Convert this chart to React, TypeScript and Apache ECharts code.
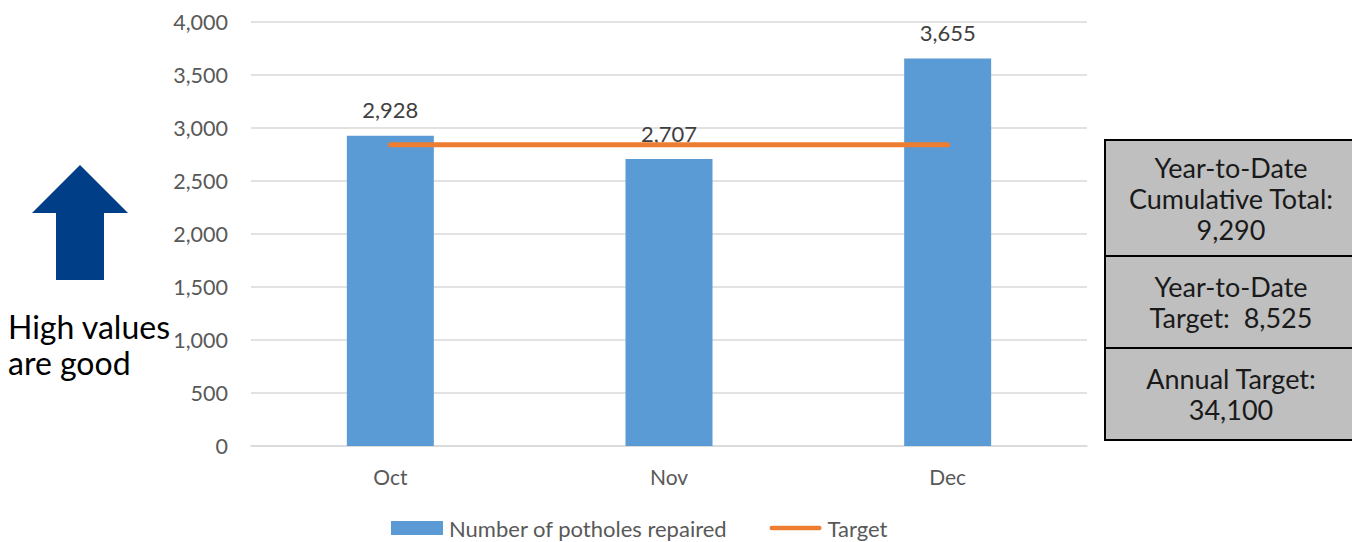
import React, { useEffect, useRef } from "react";
import * as echarts from "echarts";

const categories = ["Oct", "Nov", "Dec"];
const repaired = [2928, 2707, 3655];
const target = [2842, 2842, 2842];
const yTicks = { min: 0, max: 4000, interval: 500 };
const boxRows = [
  "Year-to-Date\nCumulative Total:\n9,290",
  "Year-to-Date\nTarget:  8,525",
  "Annual Target:\n34,100",
];
const noteText = "High values\nare good";

const FONT = "Lato, 'Noto Sans', sans-serif";
const fmt = (v: number) => v.toLocaleString("en-US");

export default function App() {
  const ref = useRef<HTMLDivElement>(null);
  useEffect(() => {
    if (!ref.current) return;
    const chart = echarts.init(ref.current, undefined, { renderer: "svg" });
    const rowTops = [140, 256, 348, 440];
    const boxGraphics: any[] = [];
    boxRows.forEach((t, i) => {
      const y0 = rowTops[i];
      const y1 = rowTops[i + 1];
      boxGraphics.push({
        type: "rect",
        shape: { x: 1105, y: y0, width: 260, height: y1 - y0 },
        style: { fill: "#bfbfbf", stroke: "#000", lineWidth: 2 },
      });
      boxGraphics.push({
        type: "text",
        x: 1231,
        y: (y0 + y1) / 2,
        style: {
          text: t,
          font: `27px ${FONT}`,
          fill: "#1a1a1a",
          align: "center",
          verticalAlign: "middle",
          lineHeight: 31,
        },
      });
    });
    chart.setOption({
      animation: false,
      textStyle: { fontFamily: FONT },
      grid: { left: 251, right: 265, top: 22, bottom: 96 },
      legend: {
        left: 391,
        top: 517,
        padding: 0,
        itemWidth: 52,
        itemHeight: 14,
        itemGap: 42,
        textStyle: { fontSize: 22, color: "#595959", fontFamily: FONT, padding: [0, 0, 0, 1] },
        data: [
          { name: "Number of potholes repaired", icon: "rect" },
          {
            name: "Target",
            icon: "path://M2.5,0 L54.5,0 A2.5,2.5 0 0 1 54.5,5 L2.5,5 A2.5,2.5 0 0 1 2.5,0 Z",
          },
        ],
      },
      xAxis: {
        type: "category",
        data: categories,
        axisTick: { show: false },
        axisLine: { lineStyle: { color: "#d9d9d9", width: 1.5 } },
        axisLabel: { fontSize: 21, color: "#595959", margin: 20 },
      },
      yAxis: {
        type: "value",
        min: yTicks.min,
        max: yTicks.max,
        interval: yTicks.interval,
        axisLine: { show: false },
        axisTick: { show: false },
        splitLine: { lineStyle: { color: "#d9d9d9", width: 1.5 } },
        axisLabel: {
          fontSize: 21.5,
          color: "#595959",
          margin: 23,
          formatter: (v: number) => fmt(v),
        },
      },
      series: [
        {
          name: "Number of potholes repaired",
          type: "bar",
          data: repaired,
          barWidth: 87,
          itemStyle: { color: "#5b9bd5" },
          label: {
            show: true,
            position: "top",
            distance: 15,
            fontSize: 22,
            color: "#404040",
            formatter: (p: any) => fmt(p.value),
          },
          z: 2,
        },
        {
          name: "Target",
          type: "line",
          data: target,
          symbol: "none",
          lineStyle: { color: "#ed7d31", width: 5, cap: "round" },
          itemStyle: { color: "#ed7d31" },
          z: 3,
        },
      ],
      graphic: [
        {
          type: "polygon",
          shape: {
            points: [
              [80, 165],
              [128, 213],
              [104, 213],
              [104, 280],
              [56, 280],
              [56, 213],
              [32, 213],
            ],
          },
          style: { fill: "#003f87" },
        },
        {
          type: "text",
          x: 8,
          y: 344,
          style: {
            text: noteText,
            font: `32px ${FONT}`,
            fill: "#000",
            verticalAlign: "middle",
            lineHeight: 36,
          },
        },
        ...boxGraphics,
      ],
    });
    return () => chart.dispose();
  }, []);
  return (
    <div
      ref={ref}
      style={{ position: "absolute", left: 0, top: 0, width: 1352, height: 542, background: "#fff" }}
    />
  );
}
